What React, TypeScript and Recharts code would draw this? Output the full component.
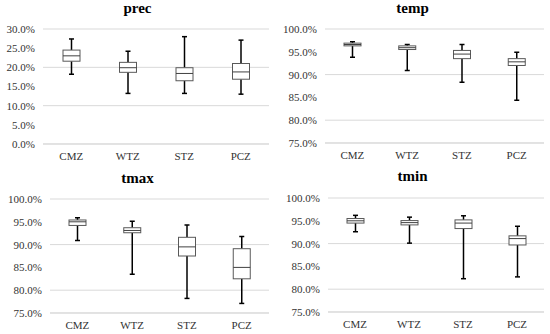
import React from "react";
import { ComposedChart, Bar, XAxis, YAxis, CartesianGrid } from "recharts";

const categories = ["CMZ", "WTZ", "STZ", "PCZ"];

// prec (%)
const precMin = [18.2, 13.2, 13.2, 13.0];
const precQ1 = [21.6, 18.7, 16.5, 16.9];
const precMed = [23.0, 19.9, 18.4, 18.8];
const precQ3 = [24.5, 21.3, 19.9, 21.0];
const precMax = [27.4, 24.2, 28.0, 27.1];

// temp (%)
const tempMin = [93.8, 90.9, 88.3, 84.4];
const tempQ1 = [96.3, 95.5, 93.5, 92.0];
const tempMed = [96.6, 95.9, 94.5, 92.8];
const tempQ3 = [96.9, 96.3, 95.3, 93.5];
const tempMax = [97.2, 96.6, 96.6, 94.9];

// tmax (%)
const tmaxMin = [90.9, 83.5, 78.2, 77.1];
const tmaxQ1 = [94.2, 92.6, 87.5, 82.5];
const tmaxMed = [95.0, 93.1, 89.5, 85.0];
const tmaxQ3 = [95.4, 93.7, 91.6, 89.1];
const tmaxMax = [95.9, 95.1, 94.3, 91.8];

// tmin (%)
const tminMin = [92.6, 90.1, 82.3, 82.7];
const tminQ1 = [94.5, 94.1, 93.3, 89.7];
const tminMed = [95.0, 94.6, 94.5, 91.1];
const tminQ3 = [95.5, 95.05, 95.2, 91.7];
const tminMax = [96.2, 95.8, 96.1, 93.8];

const precTicks = [0, 5, 10, 15, 20, 25, 30];
const highTicks = [75, 80, 85, 90, 95, 100];

function build(mn: number[], q1: number[], md: number[], q3: number[], mx: number[]) {
  return categories.map((c, i) => ({
    name: c,
    min: mn[i],
    q1: q1[i],
    med: md[i],
    q3: q3[i],
    max: mx[i],
    range: [mn[i], mx[i]],
  }));
}

const FONT = "Liberation Serif, DejaVu Serif, serif";

const BoxShape = (props: any) => {
  const { x, y, width, height, payload } = props;
  if (!payload) return null;
  const top = Math.min(y, y + height);
  const h = Math.abs(height);
  const lo = payload.min;
  const hi = payload.max;
  const py = (v: number) => top + (h * (hi - v)) / (hi - lo);
  const cx = x + width / 2;
  const cap = 2.5;
  return (
    <g>
      <line x1={cx} x2={cx} y1={py(hi)} y2={py(payload.q3)} stroke="#000" strokeWidth={1.5} />
      <line x1={cx} x2={cx} y1={py(payload.q1)} y2={py(lo)} stroke="#000" strokeWidth={1.5} />
      <line x1={cx - cap} x2={cx + cap} y1={py(hi)} y2={py(hi)} stroke="#000" strokeWidth={1.5} />
      <line x1={cx - cap} x2={cx + cap} y1={py(lo)} y2={py(lo)} stroke="#000" strokeWidth={1.5} />
      <rect
        x={x}
        y={py(payload.q3)}
        width={width}
        height={py(payload.q1) - py(payload.q3)}
        fill="#fff"
        stroke="#595959"
        strokeWidth={1}
      />
      <line x1={x} x2={x + width} y1={py(payload.med)} y2={py(payload.med)} stroke="#404040" strokeWidth={1} />
    </g>
  );
};

type PanelProps = {
  title: string;
  left: number;
  top: number;
  data: any[];
  domain: [number, number];
  ticks: number[];
  yAxisWidth: number;
  marginTop: number;
  xAxisHeight: number;
  titleTop: number;
};

function Panel(p: PanelProps) {
  return (
    <div style={{ position: "absolute", left: p.left, top: p.top, width: 275, height: 167, fontFamily: FONT }}>
      <div
        style={{
          position: "absolute",
          left: 0,
          top: p.titleTop,
          width: 275,
          textAlign: "center",
          fontFamily: FONT,
          fontWeight: "bold",
          fontSize: 15,
          lineHeight: "15px",
          color: "#000",
        }}
      >
        {p.title}
      </div>
      <ComposedChart
        width={275}
        height={167}
        data={p.data}
        margin={{ top: p.marginTop, right: 6, left: 0, bottom: 0 }}
        style={{ fontFamily: FONT }}
      >
        <CartesianGrid vertical={false} stroke="#d9d9d9" strokeWidth={1} />
        <XAxis
          dataKey="name"
          height={p.xAxisHeight}
          tickLine={false}
          axisLine={{ stroke: "#d9d9d9" }}
          tick={{ fontSize: 11, fontFamily: FONT, fill: "#333" }}
          interval={0}
        />
        <YAxis
          type="number"
          domain={p.domain}
          ticks={p.ticks}
          width={p.yAxisWidth}
          tickLine={false}
          axisLine={false}
          allowDataOverflow
          tick={{ fontSize: 11, fontFamily: FONT, fill: "#333" }}
          tickFormatter={(v: number) => v.toFixed(1) + "%"}
        />
        <Bar dataKey="range" barSize={17} shape={<BoxShape />} isAnimationActive={false} />
      </ComposedChart>
    </div>
  );
}

export default function App() {
  return (
    <div style={{ position: "absolute", left: 0, top: 0, width: 550, height: 334, background: "#fff", fontFamily: FONT }}>
      <Panel
        title="prec"
        left={0}
        top={0}
        data={build(precMin, precQ1, precMed, precQ3, precMax)}
        domain={[0, 30]}
        ticks={precTicks}
        yAxisWidth={43}
        marginTop={29}
        xAxisHeight={23}
        titleTop={1}
      />
      <Panel
        title="temp"
        left={275}
        top={0}
        data={build(tempMin, tempQ1, tempMed, tempQ3, tempMax)}
        domain={[75, 100]}
        ticks={highTicks}
        yAxisWidth={50}
        marginTop={29}
        xAxisHeight={24}
        titleTop={1}
      />
      <Panel
        title="tmax"
        left={0}
        top={167}
        data={build(tmaxMin, tmaxQ1, tmaxMed, tmaxQ3, tmaxMax)}
        domain={[75, 100]}
        ticks={highTicks}
        yAxisWidth={50}
        marginTop={32}
        xAxisHeight={21}
        titleTop={4}
      />
      <Panel
        title="tmin"
        left={275}
        top={167}
        data={build(tminMin, tminQ1, tminMed, tminQ3, tminMax)}
        domain={[75, 100]}
        ticks={highTicks}
        yAxisWidth={53}
        marginTop={31}
        xAxisHeight={22}
        titleTop={2}
      />
    </div>
  );
}
